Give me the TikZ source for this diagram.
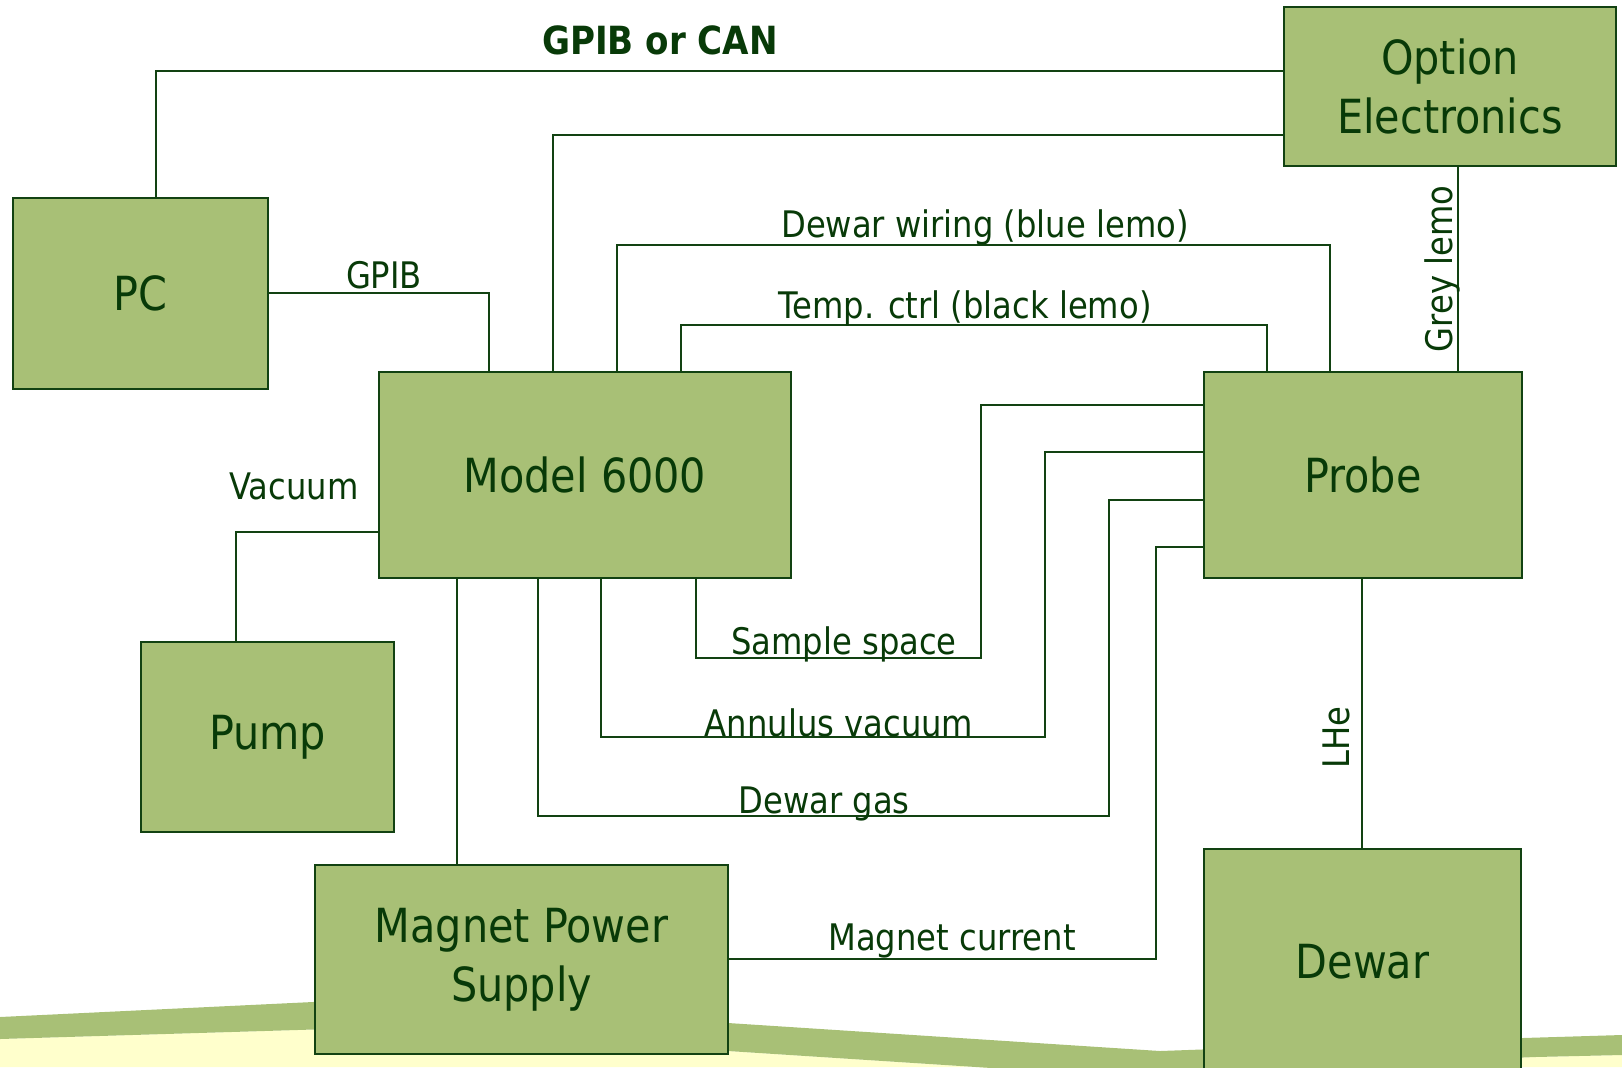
\documentclass[tikz,border=0pt]{standalone}
\usepackage{fontspec}
\setmainfont[FakeStretch=0.88]{DejaVu Sans}
\definecolor{boxc}{RGB}{168,192,118}
\definecolor{linec}{RGB}{18,66,18}
\definecolor{textc}{RGB}{8,58,8}
\definecolor{yelc}{RGB}{255,255,204}
\tikzset{
  box/.style={draw=linec, line width=1.2pt, fill=boxc, inner sep=0pt, text=textc,
    font=\fontsize{23.5}{29.5}\selectfont, align=center},
  conn/.style={draw=linec, line width=1pt},
  lbl/.style={text=textc, font=\fontsize{18.3}{22}\selectfont, inner sep=0pt, anchor=base},
}
\begin{document}
\begin{tikzpicture}[x=0.5pt,y=-0.5pt]
\useasboundingbox (0,0) rectangle (1622,1067);
\clip (0,0) rectangle (1622,1067);
% background band
\fill[yelc] (0,1039) -- (330,1029) -- (728,1051) -- (1100,1075) -- (1535,1057) -- (1622,1055) -- (1622,1067) -- (0,1067) -- cycle;
\fill[boxc] (0,1017) -- (365,999.5) -- (728,1023) -- (1160,1051) -- (1523,1038) -- (1622,1035)
  -- (1622,1055) -- (1535,1057) -- (1100,1075) -- (728,1051) -- (330,1029) -- (0,1039) -- cycle;

% boxes
\node[box, minimum width=166pt, minimum height=79.5pt] (opt) at (1450,86.5) {Option\\Electronics};
\node[box, minimum width=127.5pt, minimum height=95.5pt] (pc) at (140.5,293.5) {PC};
\node[box, minimum width=206pt, minimum height=103pt] (model) at (585,475) {Model 6000};
\node[box, minimum width=159pt, minimum height=103pt] (probe) at (1363,475) {Probe};
\node[box, minimum width=126.5pt, minimum height=95pt] (pump) at (267.5,737) {Pump};
\node[box, minimum width=206.5pt, minimum height=94.5pt] (mps) at (521.5,959.5) {\raisebox{-2.5pt}{\parbox{200pt}{\centering Magnet Power\\Supply}}};
\node[box, minimum width=158.5pt, minimum height=113pt] (dewar) at (1362.5,962) {Dewar};

% connectors
\draw[conn] (pc.north -| 156,0) |- (opt.west |- 0,71);
\draw[conn] (model.north -| 553,0) |- (opt.west |- 0,134.5);
\draw[conn] (pc.east |- 0,293) -| (model.north -| 489,0);
\draw[conn] (model.north -| 617,0) -- (617,245) -| (probe.north -| 1330,0);
\draw[conn] (model.north -| 681,0) -- (681,325) -| (probe.north -| 1267,0);
\draw[conn] (opt.south -| 1458,0) -- (probe.north -| 1458,0);
\draw[conn] (model.west |- 0,532) -| (pump.north -| 236,0);
\draw[conn] (model.south -| 457,0) -- (mps.north -| 457,0);
\draw[conn] (model.south -| 696,0) |- (981,658) |- (probe.west |- 0,404.5);
\draw[conn] (model.south -| 601,0) |- (1045,736.5) |- (probe.west |- 0,452);
\draw[conn] (model.south -| 538,0) |- (1109,816) |- (probe.west |- 0,500);
\draw[conn] (mps.east |- 0,959) -- (1155.5,959) |- (probe.west |- 0,547);
\draw[conn] (probe.south -| 1362,0) -- (dewar.north -| 1362,0);

% labels
\node[lbl, font=\fontsize{19.4}{23}\selectfont\bfseries] (lgc) at (660,54) {GPIB or CAN};
\node[lbl] (lgpib) at (384,288) {GPIB};
\node[lbl] (ldw) at (985,237) {Dewar wiring (blue lemo)};
\node[lbl] (ltc) at (965,318) {Temp. ctrl (black lemo)};
\node[lbl, rotate=90] (lgrey) at (1452,269) {Grey lemo};
\node[lbl] (lvac) at (294,499) {Vacuum};
\node[lbl] (lss) at (844,654) {Sample space};
\node[lbl] (lav) at (839,736) {Annulus vacuum};
\node[lbl] (ldg) at (824,813) {Dewar gas};
\node[lbl] (lmc) at (952,950) {Magnet current};
\node[lbl, rotate=90] (llhe) at (1349,737.5) {LHe};
\end{tikzpicture}
\end{document}
